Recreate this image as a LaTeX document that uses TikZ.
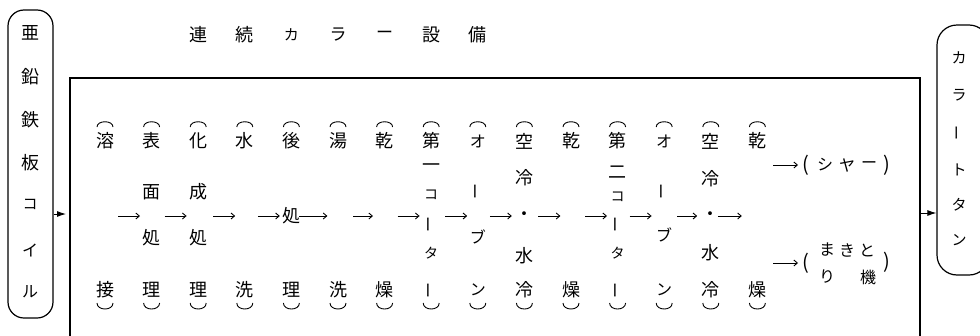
\documentclass[tikz,border=0pt]{standalone}
\usepackage{fontspec}
\newfontfamily\jp{Noto Sans CJK JP}
\usetikzlibrary{arrows.meta}
\begin{document}
\begin{tikzpicture}[x=1pt,y=-1pt,
  ch/.style={inner sep=0pt},
  flow/.style={line width=0.9pt, -{Straight Barb[length=3.5pt,width=6pt]}},
  feed/.style={line width=0.9pt, -{Latex[length=9pt,width=6pt]}},
  frame/.style={line width=1.2pt},
  brk/.style={line width=0.9pt},
  pill/.style={draw, line width=1.2pt, inner sep=0pt},
]
\useasboundingbox (0,0) rectangle (980,335);
% title
\foreach \i/\c/\s in {2/連/18,3/続/18,4/カ/15,5/ラ/17,6/ー/17,7/設/18,8/備/18}{
  \node[ch, font=\jp\fontsize{\s}{\s}\selectfont] (ttl\i) at ({105+46.6*\i},35) {\c};
}
% frame
\draw[frame] (70,340) -- (70,78) -- (920,78) -- (920,340);
% left pill
\node[pill, rounded corners=16pt, minimum width=45pt, minimum height=308pt] (lp) at (30.5,164) {};
\foreach \c/\y/\s [count=\k] in {亜/33/18,鉛/77/18,鉄/120/18,板/163/18,コ/204/15,イ/250/16,ル/292/16}{
  \node[ch, font=\jp\fontsize{\s}{\s}\selectfont] (lc\k) at (30,\y) {\c};
}
% right pill
\node[pill, rounded corners=20pt, minimum width=52pt, minimum height=250pt] (rp) at (963,150) {};
\foreach \c/\y/\r [count=\k] in {カ/58/0,ラ/95/0,ー/133/90,ト/170/0,タ/205/0,ン/240/0}{
  \node[ch, rotate=\r, font=\jp\fontsize{15}{15}\selectfont] (rc\k) at (959,\y) {\c};
}
% feed arrows
\coordinate (lin) at (66,214);
\draw[feed] (lp.east |- lin) -- (lin);
\coordinate (rout) at (920,213);
\draw[feed] (rout) -- (rp.west |- rout);
% column tops
\foreach \i/\c/\s in {0/溶/18,1/表/18,2/化/18,3/水/18,4/後/18,5/湯/18,6/乾/18,7/第/18,8/オ/16,9/空/18,10/乾/18,11/第/18,12/オ/16,13/空/18,14/乾/18}{
  \node[ch, font=\jp\fontsize{\s}{\s}\selectfont] (t\i) at ({105+46.6*\i},141) {\c};
  \draw[brk] ({105+46.6*\i-8},127) .. controls ({105+46.6*\i-8},120) and ({105+46.6*\i+8},120) .. ({105+46.6*\i+8},127);
  \draw[brk] ({105+46.6*\i-8},303) .. controls ({105+46.6*\i-8},311) and ({105+46.6*\i+8},311) .. ({105+46.6*\i+8},303);
  \coordinate (m\i) at ({105+46.6*\i},216);
}
% column bottoms
\foreach \i/\c/\s in {0/接/18,1/理/18,2/理/18,3/洗/18,4/理/18,5/洗/18,6/燥/18,8/ン/16,9/冷/18,10/燥/18,12/ン/16,13/冷/18,14/燥/18}{
  \node[ch, font=\jp\fontsize{\s}{\s}\selectfont] (b\i) at ({105+46.6*\i},290) {\c};
}
\foreach \i in {7,11}{
  \node[ch, rotate=90, font=\jp\fontsize{16}{16}\selectfont] (b\i) at ({105+46.6*\i},290) {ー};
}
% middle characters
\foreach \i/\c/\y/\s/\r [count=\k] in {
  1/面/192/18/0, 1/処/238/18/0,
  2/成/192/18/0, 2/処/238/18/0,
  4/処/216/18/0,
  7/一/168/18/0, 7/コ/195/14/0, 7/ー/224/16/90, 7/タ/253/14/0,
  8/ー/191/16/90, 8/ブ/237/16/0,
  9/冷/178/18/0, 9/・/216/18/0, 9/水/256/18/0,
  11/二/172/18/0, 11/コ/197/14/0, 11/ー/224/16/90, 11/タ/253/14/0,
  12/ー/191/16/90, 12/ブ/235/16/0,
  13/冷/179/18/0, 13/・/216/18/0, 13/水/253/18/0}{
  \node[ch, rotate=\r, font=\jp\fontsize{\s}{\s}\selectfont] (mc\k) at ({105+46.6*\i},\y) {\c};
}
% flow arrows
\foreach \i/\a/\b in {0/13/35,1/13/35,2/15/37,3/13/35,4/8/36,5/15/35,6/13/35,7/14/36,8/12/34,9/14/36,10/14/36,11/12/34,12/13/33,13/7/31}{
  \draw[flow] ([xshift=\a pt]m\i) -- ([xshift=\b pt]m\i);
}
% outputs
\coordinate (sa) at (773,165); \coordinate (sb) at (798,165);
\draw[flow] (sa) -- (sb);
\coordinate (wa) at (773,263); \coordinate (wb) at (798,263);
\draw[flow] (wa) -- (wb);
\node[ch, font=\jp\fontsize{20}{20}\selectfont] (sp1) at (806,165) {(};
\node[ch, font=\jp\fontsize{16}{16}\selectfont] (s1) at (825,165) {シ};
\node[ch, font=\jp\fontsize{16}{16}\selectfont] (s2) at (847,165) {ヤ};
\node[ch, font=\jp\fontsize{16}{16}\selectfont] (s3) at (869,165) {ー};
\node[ch, font=\jp\fontsize{20}{20}\selectfont] (sp2) at (887,165) {)};
\node[ch, font=\jp\fontsize{20}{20}\selectfont] (wp1) at (806,263) {(};
\node[ch, font=\jp\fontsize{16}{16}\selectfont] (w1) at (827,250) {ま};
\node[ch, font=\jp\fontsize{16}{16}\selectfont] (w2) at (847,250) {き};
\node[ch, font=\jp\fontsize{16}{16}\selectfont] (w3) at (867,250) {と};
\node[ch, font=\jp\fontsize{16}{16}\selectfont] (w4) at (827,277) {り};
\node[ch, font=\jp\fontsize{16}{16}\selectfont] (w5) at (868,277) {機};
\node[ch, font=\jp\fontsize{20}{20}\selectfont] (wp2) at (887,262) {)};
\end{tikzpicture}
\end{document}
